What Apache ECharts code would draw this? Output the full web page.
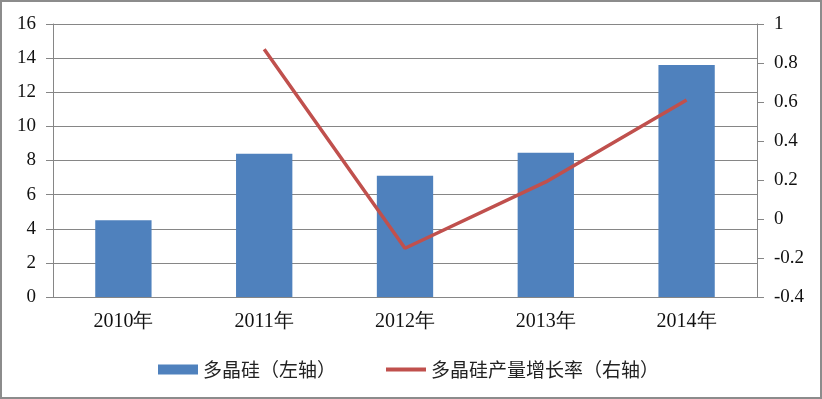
<!DOCTYPE html>
<html>
<head>
<meta charset="utf-8">
<script src="https://cdn.jsdelivr.net/npm/echarts@6/dist/echarts.min.js"></script>
<style>
  html, body { margin: 0; padding: 0; background: #fff; }
  #chart { width: 818px; height: 395px; border: 2px solid #8c8c8c; }
</style>
</head>
<body>
<div id="chart"></div>
<script>
  const years = ['2010年', '2011年', '2012年', '2013年', '2014年'];
  const polysilicon = [4.5, 8.4, 7.1, 8.45, 13.6];
  const growthRate = [null, 0.87, -0.15, 0.19, 0.61];

  const serif = '"Liberation Serif", "Times New Roman", serif';
  const cjk = '"Noto Sans CJK SC", sans-serif';
  const axisGray = '#868686';

  const chart = echarts.init(document.getElementById('chart'));
  chart.setOption({
    animation: false,
    grid: { left: 51, right: 63, top: 22, bottom: 100 },
    legend: {
      bottom: 13,
      left: 151,
      itemGap: 50,
      itemWidth: 40,
      itemHeight: 10,
      textStyle: { fontFamily: cjk, fontSize: 19, color: '#222' },
      data: [
        { name: '多晶硅（左轴）', icon: 'rect' },
        { name: '多晶硅产量增长率（右轴）', icon: 'path://M0,0 L40,0 L40,4 L0,4 Z' }
      ]
    },
    xAxis: {
      type: 'category',
      data: years,
      axisLine: { lineStyle: { color: axisGray } },
      axisTick: { alignWithLabel: false, length: 7, lineStyle: { color: axisGray } },
      axisLabel: { fontFamily: serif, fontSize: 20, color: '#111', margin: 15 }
    },
    yAxis: [
      {
        type: 'value', min: 0, max: 16, interval: 2,
        axisLine: { show: true, lineStyle: { color: axisGray } },
        axisTick: { show: true, length: 7, lineStyle: { color: axisGray } },
        splitLine: { lineStyle: { color: axisGray } },
        axisLabel: { fontFamily: serif, fontSize: 19, color: '#111', margin: 17 }
      },
      {
        type: 'value', min: -0.4, max: 1, interval: 0.2,
        axisLine: { show: true, lineStyle: { color: axisGray } },
        axisTick: { show: true, length: 7, lineStyle: { color: axisGray } },
        splitLine: { show: false },
        axisLabel: {
          fontFamily: serif, fontSize: 19, color: '#111', margin: 17,
          formatter: v => String(Math.round(v * 10) / 10)
        }
      }
    ],
    series: [
      {
        name: '多晶硅（左轴）',
        type: 'bar',
        data: polysilicon,
        barWidth: '40%',
        itemStyle: { color: '#4f81bd' }
      },
      {
        name: '多晶硅产量增长率（右轴）',
        type: 'line',
        yAxisIndex: 1,
        data: growthRate,
        showSymbol: false,
        symbol: 'none',
        lineStyle: { color: '#c0504d', width: 3.5 },
        itemStyle: { color: '#c0504d' }
      }
    ]
  });
</script>
</body>
</html>
